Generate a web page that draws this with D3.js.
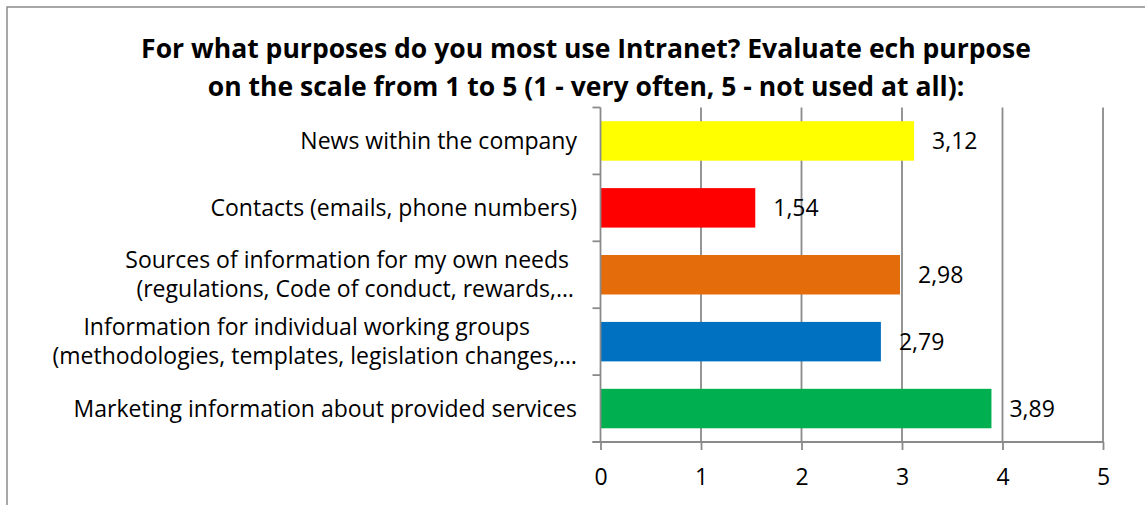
<!DOCTYPE html>
<html>
<head>
<meta charset="utf-8">
<script src="https://cdn.jsdelivr.net/npm/d3@7"></script>
<style>
  html, body { margin: 0; padding: 0; background: #fff; }
  svg { display: block; }
  text { font-family: "Open Sans", "Noto Sans", sans-serif; fill: #000; }
</style>
</head>
<body>
<svg id="chart" width="1145" height="505"></svg>
<script>
// Survey answers: average score per intranet purpose (1 = very often, 5 = not used at all)
const categories = [
  ["News within the company"],
  ["Contacts (emails, phone numbers)"],
  ["Sources of information for my own needs", "(regulations, Code of conduct, rewards,…"],
  ["Information for individual working groups", "(methodologies, templates, legislation changes,…"],
  ["Marketing information about provided services"]
];
const values = [3.12, 1.54, 2.98, 2.79, 3.89];
const barColors = ["#FFFF00", "#FF0000", "#E46C0A", "#0070C0", "#00B050"];
const xTicks = [0, 1, 2, 3, 4, 5];
const titleLines = [
  "For what purposes do you most use Intranet? Evaluate ech purpose",
  "on the scale from 1 to 5 (1 - very often, 5 - not used at all):"
];

const svg = d3.select("#chart");
const plot = { left: 600.5, right: 1103, top: 107.5, bottom: 442 };
const axisColor = "#8a8a8a";
const labelSize = 23;

// outer chart frame
svg.append("rect")
  .attr("x", 7).attr("y", 7).attr("width", 1160).attr("height", 520)
  .attr("fill", "none").attr("stroke", "#8c8c8c").attr("stroke-width", 1.5);

// title, sized so the first line spans its usual width
const titleG = svg.append("g");
const titleTexts = titleG.selectAll("text").data(titleLines).join("text")
  .attr("x", 586).attr("y", (d, i) => 58 + i * 38)
  .attr("text-anchor", "middle")
  .style("font-weight", "bold").style("font-size", "24px")
  .text(d => d);
const w0 = titleTexts.node().getComputedTextLength();
titleTexts.style("font-size", (24 * 890 / w0).toFixed(2) + "px");

const x = d3.scaleLinear().domain([0, 5]).range([plot.left, plot.right]);
const y = d3.scaleBand().domain(d3.range(categories.length))
  .range([plot.top, plot.bottom]).paddingInner(0.41).paddingOuter(0.205);

// vertical gridlines
svg.append("g").selectAll("line").data(xTicks.slice(1)).join("line")
  .attr("x1", d => x(d)).attr("x2", d => x(d))
  .attr("y1", plot.top).attr("y2", plot.bottom)
  .attr("stroke", axisColor).attr("stroke-width", 1.8);

// bars
svg.append("g").selectAll("rect").data(values).join("rect")
  .attr("x", x(0)).attr("y", (d, i) => y(i))
  .attr("width", d => x(d) - x(0)).attr("height", y.bandwidth())
  .attr("fill", (d, i) => barColors[i]);

// bottom axis
const xAxis = d3.axisBottom(x).tickValues(xTicks).tickSize(8)
  .tickFormat(d3.format("d"));
const gx = svg.append("g").attr("transform", `translate(0,${plot.bottom})`).call(xAxis);
gx.select(".domain").attr("stroke", axisColor).attr("stroke-width", 1.8)
  .attr("d", `M${plot.left - 8},0H${plot.right}`);
gx.selectAll(".tick line").attr("stroke", axisColor).attr("stroke-width", 1.8);
gx.selectAll(".tick text").attr("y", 35).attr("dy", "0.35em")
  .style("font-size", labelSize + "px")
  .style("font-family", "\"Open Sans\", sans-serif").attr("fill", "#000");

// left axis with ticks at band boundaries
const step = y.step();
const boundaries = d3.range(categories.length + 1).map(i => plot.top + i * step);
const gy = svg.append("g");
gy.append("line").attr("x1", plot.left).attr("x2", plot.left)
  .attr("y1", plot.top).attr("y2", plot.bottom)
  .attr("stroke", axisColor).attr("stroke-width", 1.8);
gy.selectAll("line.tk").data(boundaries).join("line").attr("class", "tk")
  .attr("x1", plot.left - 8).attr("x2", plot.left)
  .attr("y1", d => d).attr("y2", d => d)
  .attr("stroke", axisColor).attr("stroke-width", 1.8);

// category labels (wrapped lines centred on each other, block right-aligned)
const labelRight = 577;
const lineGap = 29;
categories.forEach((lines, i) => {
  const cy = y(i) + y.bandwidth() / 2;
  const g = svg.append("g");
  const n = lines.length;
  const texts = lines.map((s, j) => g.append("text")
    .attr("y", cy + (j - (n - 1) / 2) * lineGap)
    .attr("dy", "0.35em").style("font-size", labelSize + "px").text(s));
  const widths = texts.map(t => t.node().getComputedTextLength());
  const maxW = d3.max(widths);
  const center = labelRight - maxW / 2;
  texts.forEach((t, j) => {
    const shift = (n > 1 && j === 0) ? -8 : 0;
    t.attr("text-anchor", "middle").attr("x", center + shift);
  });
});

// value labels
svg.append("g").selectAll("text").data(values).join("text")
  .attr("x", d => x(d) + 18)
  .attr("y", (d, i) => y(i) + y.bandwidth() / 2)
  .attr("dy", "0.35em").style("font-size", labelSize + "px")
  .text(d => d3.format(".2f")(d).replace(".", ","));
</script>
</body>
</html>
